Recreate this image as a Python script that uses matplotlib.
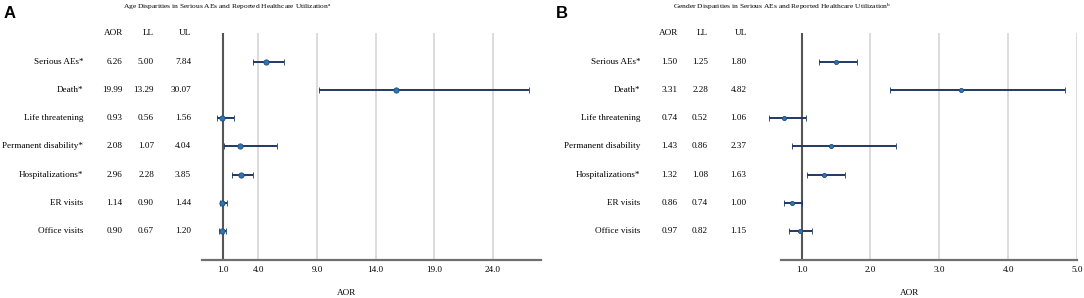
import matplotlib
matplotlib.use("Agg")
import matplotlib.pyplot as plt
import matplotlib.transforms as mtransforms

# ---------------- data ----------------
outcomes_a = ["Serious AEs*", "Death*", "Life threatening", "Permanent disability*",
              "Hospitalizations*", "ER visits", "Office visits"]
outcomes_b = ["Serious AEs*", "Death*", "Life threatening", "Permanent disability",
              "Hospitalizations*", "ER visits", "Office visits"]

# table text (as printed)
aor_txt_a = ["6.26", "19.99", "0.93", "2.08", "2.96", "1.14", "0.90"]
ll_txt_a = ["5.00", "13.29", "0.56", "1.07", "2.28", "0.90", "0.67"]
ul_txt_a = ["7.84", "30.07", "1.56", "4.04", "3.85", "1.44", "1.20"]

aor_txt_b = ["1.50", "3.31", "0.74", "1.43", "1.32", "0.86", "0.97"]
ll_txt_b = ["1.25", "2.28", "0.52", "0.86", "1.08", "0.74", "0.82"]
ul_txt_b = ["1.80", "4.82", "1.06", "2.37", "1.63", "1.00", "1.15"]

# plotted marks (panel A)
aor_plot_a = [4.67, 15.72, 0.91, 2.45, 2.48, 0.91, 0.86]
ll_plot_a = [3.50, 9.13, 0.49, 1.09, 1.77, 0.72, 0.61]
ul_plot_a = [6.20, 27.10, 1.89, 5.55, 3.53, 1.29, 1.23]

# plotted marks (panel B)
aor_plot_b = [1.50, 3.31, 0.74, 1.43, 1.32, 0.86, 0.97]
ll_plot_b = [1.25, 2.28, 0.52, 0.86, 1.08, 0.74, 0.82]
ul_plot_b = [1.80, 4.82, 1.06, 2.37, 1.63, 1.00, 1.15]

ticks_a = [1.0, 4.0, 9.0, 14.0, 19.0, 24.0]
ticks_b = [1.0, 2.0, 3.0, 4.0, 5.0]

title_a = "Age Disparities in Serious AEs and Reported Healthcare Utilization"
title_b = "Gender Disparities in Serious AEs and Reported Healthcare Utilization"

# ---------------- figure ----------------
W, H = 1084, 298
fig = plt.figure(figsize=(W / 100, H / 100), dpi=100)
SERIF = "Liberation Serif"
FS = 6.6

def px(x):
    return x / W

def py(y):
    return 1 - y / H

def panel(xl, xr, xlim, ticks, labels, aor_t, ll_t, ul_t, pts, lls, uls,
          col_lab, col_aor, col_ll, col_ul, letter, letter_x, title, title_x, sup,
          xlab_x, ms):
    top, bot = 33.4, 259.5
    ax = fig.add_axes([px(xl), py(bot), px(xr - xl), (bot - top) / H])
    ax.set_xlim(*xlim)
    ax.set_ylim(7, -1)
    for s in ["top", "right", "left"]:
        ax.spines[s].set_visible(False)
    ax.spines["bottom"].set_color("#707070")
    ax.spines["bottom"].set_linewidth(1.6)
    ax.set_yticks([])
    ax.set_xticks(ticks)
    ax.set_xticklabels([f"{t:.1f}" for t in ticks], fontsize=FS, family=SERIF)
    ax.tick_params(axis="x", length=0, pad=4.5, colors="black")
    for t in ticks[1:]:
        ax.axvline(t, color="#d9d9d9", lw=1.3, zorder=1)
    ax.axvline(1.0, color="#555555", lw=1.5, zorder=2)
    ys = list(range(len(labels)))
    xerr = [[p - l for p, l in zip(pts, lls)], [u - p for p, u in zip(pts, uls)]]
    ax.errorbar(pts, ys, xerr=xerr, fmt="o", color="#1f3864", ecolor="#1f3864",
                elinewidth=1.4, capsize=2.0, capthick=1.2, ms=ms,
                mfc="#2e75b6", mec="#1f4e79", mew=0.6, zorder=3, clip_on=False)
    tr = mtransforms.blended_transform_factory(fig.transFigure, ax.transData)
    for x, h in [(col_aor, "AOR"), (col_ll, "LL"), (col_ul, "UL")]:
        ax.text(px(x), -1, h, transform=tr, ha="right", va="center",
                fontsize=FS, family=SERIF, clip_on=False)
    for i, y in enumerate(ys):
        ax.text(px(col_lab), y, labels[i], transform=tr, ha="right", va="center",
                fontsize=FS, family=SERIF, clip_on=False)
        ax.text(px(col_aor), y, aor_t[i], transform=tr, ha="right", va="center",
                fontsize=FS, family=SERIF, clip_on=False)
        ax.text(px(col_ll), y, ll_t[i], transform=tr, ha="right", va="center",
                fontsize=FS, family=SERIF, clip_on=False)
        ax.text(px(col_ul), y, ul_t[i], transform=tr, ha="right", va="center",
                fontsize=FS, family=SERIF, clip_on=False)
    fig.text(px(letter_x), py(13.5), letter, ha="left", va="center",
             fontsize=12, fontweight="bold", family="Liberation Sans")
    fig.text(px(title_x), py(7), title + r"$^{\mathregular{" + sup + "}}$",
             ha="center", va="center", fontsize=5.4, family=SERIF)
    fig.text(px(xlab_x), py(293), "AOR", ha="center", va="center",
             fontsize=FS, family=SERIF)
    return ax

panel(201.7, 541, (-0.84, 28.1), ticks_a, outcomes_a, aor_txt_a, ll_txt_a, ul_txt_a,
      aor_plot_a, ll_plot_a, ul_plot_a,
      83.5, 122.7, 154, 191, "A", 3.5, title_a, 227, "a", 347, 3.8)

panel(780.7, 1077, (0.696, 5.0), ticks_b, outcomes_b, aor_txt_b, ll_txt_b, ul_txt_b,
      aor_plot_b, ll_plot_b, ul_plot_b,
      640.7, 677.7, 708, 746.7, "B", 556, title_b, 782, "b", 910, 3.0)

fig.savefig("out.png", dpi=100)
